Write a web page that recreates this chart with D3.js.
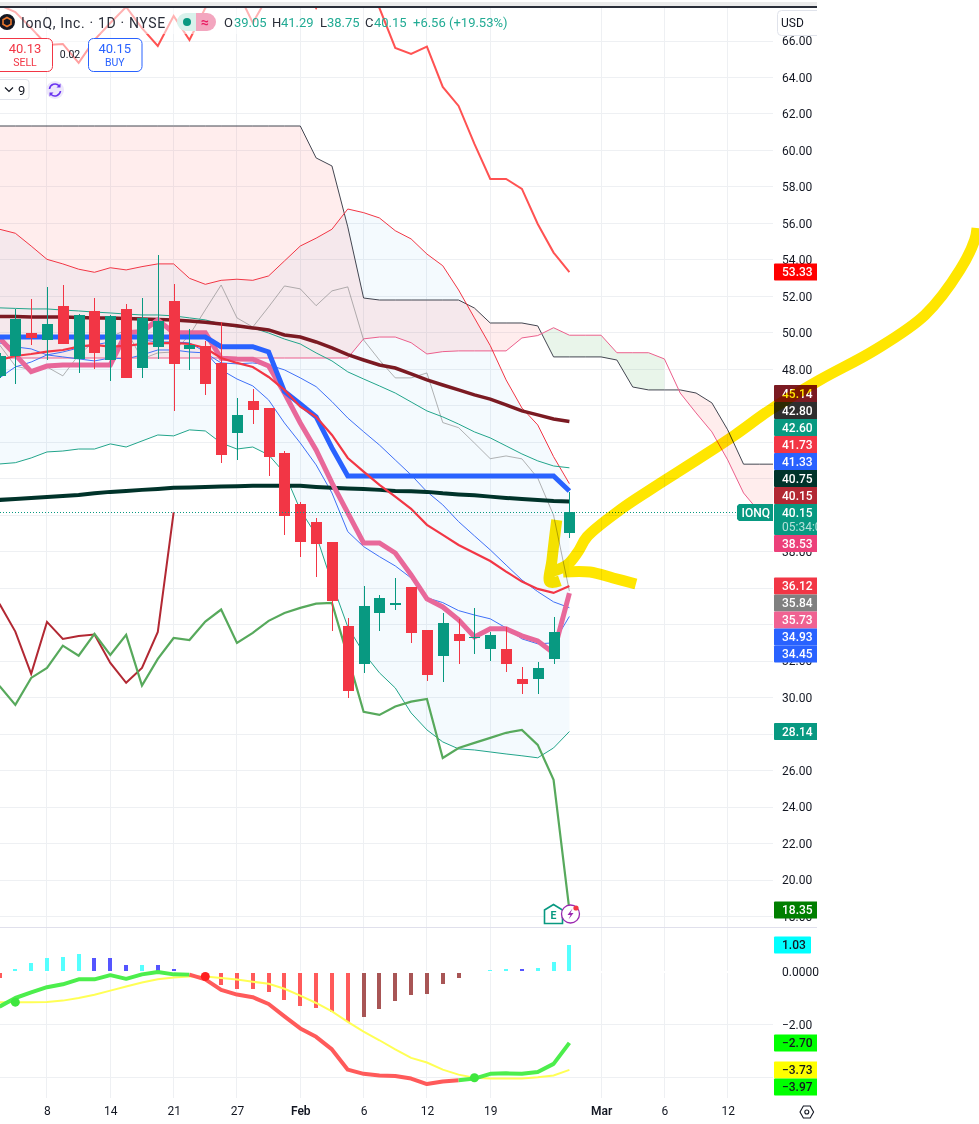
<!DOCTYPE html>
<html>
<head>
<meta charset="utf-8">
<title>IonQ, Inc. 1D</title>
<script src="https://cdn.jsdelivr.net/npm/d3@7"></script>
<style>
    html, body { margin: 0; padding: 0; background: #fff; }
    svg { display: block; font-family: Roboto, "Noto Sans", sans-serif; }
    .axis path, .axis line { display: none; }
    .axis text { fill: #131722; font-size: 12px; font-family: Roboto, sans-serif; }
</style>
</head>
<body>
<div id="chart"></div>
<script>
// candles, bar 0 is the one cut off by the left edge
const opens  = [47.64,48.73,49.99,49.61,51.47,48.57,51.20,48.51,51.31,48.07,49.23,51.75,49.12,49.28,48.35,44.51,46.27,45.88,43.42,40.62,39.63,38.54,33.93,31.85,34.65,35.08,36.07,33.71,32.29,33.49,33.27,32.67,32.67,31.03,31.03,32.12,39.05];
const highs  = [48.90,51.31,51.86,52.51,52.63,51.04,51.91,50.98,51.58,51.91,54.27,52.68,50.21,49.56,50.60,46.43,46.92,45.88,43.53,40.73,39.85,38.54,34.37,36.12,35.63,36.56,36.07,33.71,34.65,34.32,34.92,33.60,33.88,31.68,31.96,34.42,41.29];
const lows   = [47.53,47.20,49.34,48.51,49.39,47.80,48.02,47.36,47.53,47.53,48.57,45.72,47.97,46.60,42.87,43.03,45.01,42.16,38.92,37.71,36.62,33.66,29.98,31.36,33.66,34.81,33.00,30.92,30.86,31.85,32.40,32.01,31.41,30.20,30.20,31.85,38.75];
const closes = [48.73,50.76,49.72,50.49,49.39,50.98,48.90,50.93,47.53,50.82,50.65,48.29,49.34,47.20,43.31,45.50,45.77,43.20,39.96,38.54,38.43,35.30,30.37,35.03,35.47,35.19,33.55,31.25,34.10,33.11,33.33,33.44,31.85,30.75,31.63,33.60,40.15];

// cloud, runs on past the last candle
const spanA = [48.62,48.62,48.62,48.62,48.62,48.62,48.62,48.62,48.62,48.62,48.62,48.62,48.62,48.62,48.62,48.62,48.62,48.62,48.62,48.62,48.62,48.62,48.62,49.67,49.77,49.77,49.46,48.84,48.97,49.01,49.01,49.01,49.01,49.72,49.85,50.28,49.87,49.87,49.87,48.91,48.91,48.91,48.57,46.70,45.61,44.57,43.03,41.22,40.18,40.00];
const spanB = [61.34,61.34,61.34,61.34,61.34,61.34,61.34,61.34,61.34,61.34,61.34,61.34,61.34,61.34,61.34,61.34,61.34,61.34,61.34,61.34,59.59,59.15,55.81,51.91,51.80,51.80,51.80,51.80,51.80,51.80,51.36,50.54,50.54,50.54,50.38,48.68,48.68,48.68,48.68,48.51,47.03,46.87,46.87,46.87,46.70,46.16,44.68,42.80,42.80,42.80];

// bands
const bandUpper = [55.68,55.46,54.76,54.03,53.78,53.49,53.32,53.57,53.45,53.63,53.78,53.78,52.99,52.66,52.88,52.94,52.88,53.12,53.94,54.76,55.19,55.68,56.79,56.59,56.30,55.60,55.15,54.32,53.68,52.35,50.82,49.30,47.42,45.88,44.95,43.21,41.73];
const bandBasis = [51.37,51.34,51.31,51.31,51.25,51.20,51.14,51.09,51.03,50.98,50.98,50.93,50.82,50.71,50.49,50.32,50.27,49.99,49.66,49.39,48.90,48.46,47.86,47.47,47.09,46.70,46.21,45.72,45.39,45.00,44.57,44.24,43.80,43.36,42.98,42.70,42.60];
const bandLower = [42.81,42.88,43.14,43.47,43.52,43.63,43.63,43.91,43.74,44.07,44.40,44.35,44.68,44.62,43.96,43.63,43.74,43.31,42.32,40.29,38.92,36.29,33.88,32.45,31.36,30.53,29.16,28.23,27.57,27.19,27.13,27.02,26.91,26.81,26.70,27.24,28.14];

// moving averages and the rest
const ma50  = [50.89,50.89,50.87,50.87,50.87,50.84,50.82,50.82,50.79,50.76,50.73,50.71,50.65,50.58,50.49,50.39,50.27,50.16,49.88,49.77,49.50,49.17,48.80,48.51,48.24,48.07,47.75,47.42,47.14,46.87,46.60,46.37,46.05,45.72,45.50,45.28,45.14];
const ma200 = [40.84,40.89,40.95,41.00,41.06,41.11,41.20,41.28,41.33,41.39,41.44,41.50,41.52,41.55,41.58,41.59,41.61,41.61,41.61,41.61,41.55,41.50,41.47,41.44,41.39,41.33,41.31,41.28,41.20,41.14,41.09,41.02,40.95,40.89,40.84,40.78,40.75];
const baseline = [49.77,49.77,49.77,49.77,49.77,49.77,49.77,49.77,49.77,49.77,49.77,49.77,49.77,49.77,49.24,49.24,49.24,48.95,46.78,46.10,45.40,43.69,42.15,42.15,42.15,42.15,42.15,42.15,42.15,42.15,42.15,42.15,42.15,42.15,42.15,42.15,41.33];
const emaRed = [48.51,48.73,48.84,48.97,49.06,49.24,49.34,49.24,49.28,49.39,49.43,49.45,49.39,49.17,48.62,48.35,48.13,47.58,46.87,45.95,45.40,44.40,43.14,42.39,41.66,41.02,40.35,39.47,38.92,38.37,37.93,37.49,36.91,36.36,35.96,35.74,36.12];
const pinkThick = [49.72,48.79,47.87,48.18,48.24,48.24,48.24,48.24,50.00,50.07,50.71,50.01,50.01,50.01,48.61,48.57,48.55,48.18,46.70,45.06,43.58,41.77,40.13,38.48,38.48,37.93,36.73,35.41,34.97,34.26,33.33,33.77,33.77,33.39,33.11,32.45,35.73];
const blueA = [49.45,49.23,49.12,48.79,48.68,48.57,48.46,48.62,48.57,48.79,49.06,49.06,48.95,48.90,48.35,48.30,48.35,48.24,47.97,47.53,47.05,46.23,45.33,44.58,43.85,43.03,42.21,41.29,40.57,39.65,38.87,38.10,37.27,36.45,35.81,35.25,34.93];
const blueB = [47.53,48.13,48.40,48.79,48.95,49.17,49.34,49.50,49.88,49.61,49.50,49.50,49.45,48.95,47.97,47.47,47.09,46.32,45.06,43.96,42.76,41.22,39.10,38.28,37.73,37.22,36.56,35.47,35.21,34.77,34.53,34.32,33.82,33.22,32.95,33.00,34.45];
const lagGray = [49.34,48.18,47.97,48.13,47.64,48.79,49.54,49.77,50.16,48.57,48.90,48.95,49.88,51.26,52.62,50.82,50.32,51.42,52.57,52.41,51.49,52.30,52.52,49.61,48.51,47.53,47.53,47.80,45.08,44.80,43.96,43.10,43.25,43.09,42.04,40.00,35.84];
const topRed = [67.97,67.59,66.71,65.78,65.84,64.80,66.06,66.99,67.87,66.71,65.73,67.37,66.06,67.81,68.52,68.80,66.99,68.52,69.35,69.35,67.81,69.35,69.35,68.80,67.81,65.62,65.29,65.69,63.48,62.44,60.36,58.44,58.44,57.89,55.97,54.40,53.33];
const darkRed = [35.14,33.62,31.30,34.15,33.22,33.38,33.46,31.90,30.81,31.63,33.60,40.15];
const greenLine = [30.64,29.60,31.08,31.63,32.85,32.30,33.49,32.34,33.44,30.66,32.12,33.27,33.16,34.17,34.83,33.00,33.55,34.21,34.64,34.92,35.15,35.19,32.25,29.22,29.05,29.51,29.78,29.93,26.69,27.24,27.52,27.79,28.07,28.23,27.41,25.49,18.35];

// lower pane
const hist = [-0.21,0.10,0.35,0.54,0.58,0.69,0.54,0.53,0.27,0.28,0.27,0.12,0.04,0,-0.51,-0.63,-0.63,-0.78,-1.05,-1.28,-1.36,-1.51,-1.90,-1.71,-1.40,-1.09,-0.86,-0.82,-0.47,-0.24,0,0.09,0.11,0.10,0.14,0.37,1.03];
const signal = [-1.15,-1.15,-1.15,-1.14,-1.09,-0.99,-0.87,-0.71,-0.55,-0.40,-0.28,-0.21,-0.17,-0.17,-0.23,-0.29,-0.37,-0.45,-0.64,-0.90,-1.18,-1.50,-1.90,-2.27,-2.60,-2.95,-3.27,-3.45,-3.72,-3.91,-4.03,-4.06,-4.06,-4.06,-4.01,-3.94,-3.73];
const macd = [-1.32,-0.99,-0.78,-0.58,-0.47,-0.28,-0.28,-0.12,-0.26,-0.09,0,-0.09,-0.10,-0.28,-0.68,-0.86,-0.96,-1.22,-1.69,-2.15,-2.47,-2.95,-3.72,-3.88,-3.94,-3.96,-4.06,-4.27,-4.17,-4.12,-4.06,-3.88,-3.86,-3.88,-3.81,-3.50,-2.70];
const macdRuns = [[0, 12, "#4cee4c"], [12, 29, "#ff5a5a"], [29, 36, "#4cee4c"]];
const crossBars = [1, 13, 30];
const crossColors = ["#3ee63e", "#ff2020", "#3ee63e"];

// axis labels, the ticks left out sit fully behind a price tag
const priceTicks = d3.range(18, 68, 2);
const priceLabels = [18, 20, 22, 24, 26, 30, 32, 38, 48, 50, 52, 54, 56, 58, 60, 62, 64, 66];
const oscTicks = [0, -2];
const oscGrid = [-2, -4];
const timeBars = [3, 7, 11, 15, 19, 23, 27, 31, 38, 42, 46];
const timeLabels = ["8", "14", "21", "27", "Feb", "6", "12", "19", "Mar", "6", "12"];

// price tags on the right axis
const lastPrice = 40.15;
const tagsAbove = [[40.15, "#b22833"], [40.75, "#00332a"], [41.33, "#2962ff"], [41.73, "#f23645"], [42.60, "#089981"], [42.80, "#2e2e2e"], [45.14, "#7b1a22"]];
const tagsBelow = [[38.53, "#ec407a"], [36.12, "#f23645"], [35.84, "#808080"], [35.73, "#f06292"], [34.93, "#2962ff"], [34.45, "#2962ff"]];
const tagsFree = [[53.33, "#ff0000"], [28.14, "#089981"], [18.35, "#007f00"]];
const oscTags = [[-2.70, "#00ff00"], [-3.73, "#ffff00"], [-3.97, "#00ff00"]];

// hand drawn marker, as [bar, price]
const markerMain = [[61.75,55.75],[61.6,55.09],[60.67,53.45],[58.46,50.98],[55.3,49.06],[51.83,47.42],[48.67,45.77],[46.46,44.40],[44.25,43.14],[41.09,41.39],[39.2,40.29],[37.11,38.81],[36.54,37.99],[35.85,37.27],[34.77,36.89]];
const markerDown = [[35.2,39.74],[34.9,37.55],[34.77,36.34],[35.4,36.4]];
const markerTail = [[35.6,36.89],[37.3,36.89],[38.76,36.56],[40.2,36.23]];

const width = 979, height = 1124;
const plotRight = 773, axisRight = 817, paneTop = 8, paneSplit = 927, paneBottom = 1098, tagH = 17;

const x = d3.scaleLinear().domain([0, 49]).range([-0.5, 775.2]);
const y = d3.scaleLinear().domain([64, 20]).range([77.5, 880]);
const yOsc = d3.scaleLinear().domain([0, -4]).range([972, 1077]);

const svg = d3.select("#chart").append("svg").attr("width", width).attr("height", height);
svg.append("rect").attr("width", width).attr("height", height).attr("fill", "#fff");

const defs = svg.append("defs");
defs.append("clipPath").attr("id", "plotClip").append("rect")
    .attr("x", 0).attr("y", paneTop).attr("width", plotRight).attr("height", paneSplit - paneTop);
defs.append("clipPath").attr("id", "redA").append("rect")
    .attr("x", -1).attr("y", 0).attr("width", x(34.25) + 1).attr("height", height);
defs.append("clipPath").attr("id", "greenA").append("rect")
    .attr("x", x(34.25)).attr("y", 0).attr("width", x(42) - x(34.25)).attr("height", height);
defs.append("clipPath").attr("id", "redB").append("rect")
    .attr("x", x(42.9)).attr("y", 0).attr("width", plotRight - x(42.9)).attr("height", height);
defs.append("clipPath").attr("id", "axisClip").append("rect")
    .attr("x", 0).attr("y", 0).attr("width", axisRight).attr("height", height);
defs.append("clipPath").attr("id", "priceAxisClip").append("rect")
    .attr("x", plotRight).attr("y", 36).attr("width", axisRight - plotRight).attr("height", paneSplit - 36);

// grid
const grid = svg.append("g").attr("shape-rendering", "crispEdges").attr("stroke", "#eef0f3");
grid.selectAll(".h").data(priceTicks).join("line").attr("class", "h")
    .attr("x1", 0).attr("x2", plotRight).attr("y1", d => y(d)).attr("y2", d => y(d));
grid.selectAll(".o").data(oscGrid).join("line").attr("class", "o")
    .attr("x1", 0).attr("x2", plotRight).attr("y1", d => yOsc(d)).attr("y2", d => yOsc(d));
grid.selectAll(".v").data(timeBars).join("line").attr("class", "v")
    .attr("x1", d => x(d)).attr("x2", d => x(d)).attr("y1", paneTop).attr("y2", paneBottom);

const plot = svg.append("g").attr("clip-path", "url(#plotClip)");

// fills
const bars = d3.range(spanA.length);
const cloud = d3.area().x(d => x(d)).y0(d => y(spanA[d])).y1(d => y(spanB[d]));
const band = d3.area().x(d => x(d)).y0(d => y(bandUpper[d])).y1(d => y(bandLower[d]));
plot.append("path").attr("d", band(d3.range(bandUpper.length))).attr("fill", "rgba(33,150,243,.05)");
plot.append("path").attr("d", cloud(bars)).attr("clip-path", "url(#redA)").attr("fill", "rgba(255,82,82,.1)");
plot.append("path").attr("d", cloud(bars)).attr("clip-path", "url(#greenA)").attr("fill", "rgba(76,175,80,.12)");
plot.append("path").attr("d", cloud(bars)).attr("clip-path", "url(#redB)").attr("fill", "rgba(255,82,82,.1)");

// last price line
svg.append("line").attr("x1", 0).attr("x2", 737).attr("y1", y(lastPrice)).attr("y2", y(lastPrice))
    .attr("stroke", "#089981").attr("stroke-dasharray", "1 2").attr("shape-rendering", "crispEdges");

const line = d3.line().x((d, i) => x(i)).y(d => y(d));
function drawLine(values, color, w) {
    plot.append("path").attr("d", line(values)).attr("fill", "none")
        .attr("stroke", color).attr("stroke-width", w).attr("stroke-linejoin", "miter");
}
drawLine(spanB, "#434651", 1);
drawLine(spanA, "#ec5f8c", 1);
drawLine(lagGray, "rgba(128,128,128,.6)", 1);
drawLine(bandUpper, "#f23645", 1);
drawLine(bandBasis, "#22a58b", 1);
drawLine(bandLower, "#22a58b", 1);
drawLine(blueA, "#3f70f8", 1);
drawLine(blueB, "#3f70f8", 1);
drawLine(topRed, "#ff5252", 2);
drawLine(darkRed, "#b22833", 2);
drawLine(greenLine, "#57a95c", 2.2);
drawLine(ma200, "#00332a", 4);
drawLine(ma50, "#7b1a22", 3.5);
drawLine(pinkThick, "#e8689a", 5);
drawLine(baseline, "#2962ff", 5);
drawLine(emaRed, "#f23645", 2.2);

// candles
const candles = plot.append("g").attr("shape-rendering", "crispEdges");
const barColor = i => closes[i] >= opens[i] ? "#089981" : "#f23645";
candles.selectAll(".w").data(opens).join("line").attr("class", "w")
    .attr("x1", (d, i) => Math.round(x(i)) + .5).attr("x2", (d, i) => Math.round(x(i)) + .5)
    .attr("y1", (d, i) => y(highs[i])).attr("y2", (d, i) => y(lows[i]))
    .attr("stroke", (d, i) => barColor(i));
candles.selectAll(".b").data(opens).join("rect").attr("class", "b")
    .attr("x", (d, i) => Math.round(x(i)) - 5).attr("width", 11)
    .attr("y", (d, i) => y(Math.max(d, closes[i])))
    .attr("height", (d, i) => Math.max(1, Math.abs(y(d) - y(closes[i]))))
    .attr("fill", (d, i) => barColor(i));

// white backing of the legend rows fades what runs behind it
svg.append("rect").attr("x", 0).attr("y", paneTop).attr("width", 300).attr("height", 26).attr("fill", "rgba(255,255,255,.55)");
svg.append("rect").attr("x", 0).attr("y", 34).attr("width", 145).attr("height", 38).attr("fill", "rgba(255,255,255,.45)");

// lower pane
const histColor = (d, i) => {
    const prev = i ? hist[i - 1] : 0;
    if (d >= 0) return d > prev ? "#55ffff" : "#5555ff";
    return d <= prev ? "#ff5a5a" : "#a85555";
};
svg.append("g").attr("shape-rendering", "crispEdges").selectAll("rect").data(hist).join("rect")
    .attr("x", (d, i) => Math.round(x(i)) - 2).attr("width", 4)
    .attr("y", d => Math.min(yOsc(d), yOsc(0))).attr("height", d => Math.abs(yOsc(d) - yOsc(0)))
    .attr("fill", histColor);
svg.append("rect").attr("x", 0).attr("y", yOsc(0) - 1).attr("width", plotRight).attr("height", 2).attr("fill", "#fff");

const oscLine = d3.line().x(d => x(d)).y(d => yOsc(macd[d]));
const sigLine = d3.line().x((d, i) => x(i)).y(d => yOsc(d));
svg.append("path").attr("d", sigLine(signal)).attr("fill", "none").attr("stroke", "#ffff55").attr("stroke-width", 2);
macdRuns.forEach(([from, to, color]) => {
    svg.append("path").attr("d", oscLine(d3.range(from, to + 1))).attr("fill", "none")
        .attr("stroke", color).attr("stroke-width", 4).attr("stroke-linejoin", "round");
});
svg.selectAll(".cross").data(crossBars).join("circle").attr("class", "cross")
    .attr("cx", d => x(d)).attr("cy", d => yOsc(signal[d]))
    .attr("r", 4.5).attr("fill", (d, i) => crossColors[i]);

// top bars and separators
svg.append("rect").attr("x", 0).attr("y", 2).attr("width", axisRight).attr("height", 4).attr("fill", "#ebebeb");
svg.append("rect").attr("x", 0).attr("y", 6).attr("width", axisRight).attr("height", 2).attr("fill", "#2a2e39");
svg.append("line").attr("x1", 0).attr("x2", axisRight).attr("y1", paneSplit + .5).attr("y2", paneSplit + .5)
    .attr("stroke", "#e0e0ec");

// axes
svg.append("g").attr("clip-path", "url(#priceAxisClip)")
  .append("g").attr("class", "axis").attr("transform", "translate(782,0)")
    .call(d3.axisRight(y).tickValues(priceLabels).tickFormat(d3.format(".2f")).tickSize(0).tickPadding(0));
svg.append("g").attr("class", "axis").attr("transform", "translate(782,0)")
    .call(d3.axisRight(yOsc).tickValues(oscTicks).tickFormat(d => d === 0 ? "0.0000" : d3.format(".2f")(d)).tickSize(0).tickPadding(0));
const timeAxis = svg.append("g").attr("class", "axis").attr("transform", `translate(0,${paneBottom})`)
    .call(d3.axisBottom(x).tickValues(timeBars).tickFormat((d, i) => timeLabels[i]).tickSize(0).tickPadding(8));
timeAxis.selectAll("text").style("font-weight", (d, i) => isNaN(timeLabels[i]) ? 600 : 400);

// tags, the ones around the last price get pushed away from it
const tagLayer = svg.append("g").attr("clip-path", "url(#axisClip)");
function drawTag(value, color, top, opts = {}) {
    const h = opts.h || tagH;
    tagLayer.append("rect").attr("x", 774).attr("y", top).attr("width", opts.w || 44).attr("height", h)
        .attr("rx", 1).attr("fill", color);
    tagLayer.append("text").attr("x", 782).attr("y", top + tagH / 2).attr("dy", ".36em")
        .attr("font-size", 12).attr("font-weight", 500).attr("fill", opts.ink || "#fff")
        .text(opts.text || d3.format(".2f")(value));
}
const mainTop = y(lastPrice) - tagH / 2;
let edge = mainTop;
tagsAbove.forEach(([v, c]) => {
    edge = Math.min(y(v) - tagH / 2, edge - tagH);
    drawTag(v, c, edge);
});
edge = mainTop + 31 - tagH;
tagsBelow.forEach(([v, c]) => {
    edge = Math.max(y(v) - tagH / 2, edge + tagH);
    drawTag(v, c, edge);
});
tagsFree.forEach(([v, c]) => drawTag(v, c, y(v) - tagH / 2));
drawTag(lastPrice, "#089981", mainTop, { h: 31 });
tagLayer.append("text").attr("x", 782).attr("y", mainTop + 27).attr("font-size", 12)
    .attr("fill", "rgba(255,255,255,.7)").text("05:34:08");
drawTag(hist[hist.length - 1], "#00ffff", yOsc(hist[hist.length - 1]) - tagH / 2, { w: 37, ink: "#131722" });
let oscEdge = -Infinity;
oscTags.forEach(([v, c]) => {
    oscEdge = Math.max(yOsc(v) - tagH / 2, oscEdge + tagH);
    drawTag(v, c, oscEdge, { ink: "#131722" });
});

// symbol tag
svg.append("path").attr("d", d3.line()([[773, 504], [739, 504], [737, 506], [737, 519], [739, 521], [773, 521]]))
    .attr("fill", "#089981");
svg.append("text").attr("x", 741.5).attr("y", 517).attr("font-size", 12).attr("font-weight", 500).attr("fill", "#fff").text("IONQ");

// usd box
svg.append("g").attr("clip-path", "url(#axisClip)").append("rect")
    .attr("x", 777.5).attr("y", 10.5).attr("width", 50).attr("height", 25).attr("rx", 4)
    .attr("fill", "#fff").attr("stroke", "#e0e3eb");
svg.append("text").attr("x", 781).attr("y", 27).attr("font-size", 12).attr("fill", "#131722").text("USD");

// legend
const legend = svg.append("g");
legend.append("circle").attr("cx", 7).attr("cy", 22).attr("r", 8).attr("fill", "#131722");
legend.append("path").attr("d", "M7 17.5l4 2.2v4.6l-4 2.2l-4-2.2v-4.6z").attr("fill", "none").attr("stroke", "#e8762d").attr("stroke-width", 1.6);
legend.append("text").attr("x", 21).attr("y", 27.5).attr("font-size", 14).attr("letter-spacing", ".65").attr("fill", "#2a2e39").text("IonQ, Inc. · 1D · NYSE");
legend.append("path").attr("d", "M196 13h-10a9 9 0 0 0 0 18h10z").attr("fill", "#d9f2ec");
legend.append("path").attr("d", "M196 13h11a9 9 0 0 1 0 18h-11z").attr("fill", "#f3a6bf");
legend.append("circle").attr("cx", 187).attr("cy", 22).attr("r", 4).attr("fill", "#089981");
legend.append("text").attr("x", 205).attr("y", 27).attr("text-anchor", "middle").attr("font-size", 14).attr("font-weight", 700).attr("fill", "#e91e63").text("≈");

const ohlc = [["O", 224], ["39.05", 234], ["H", 272], ["41.29", 281], ["L", 320], ["38.75", 327], ["C", 365], ["40.15", 374], ["+6.56", 413], ["(+19.53%)", 449]];
legend.selectAll(".q").data(ohlc).join("text").attr("class", "q")
    .attr("x", d => d[1]).attr("y", 27).attr("font-size", 13)
    .attr("fill", d => d[0].length === 1 ? "#2a2e39" : "#22ab94").text(d => d[0]);

function tradeBox(left, w, color, price, word) {
    legend.append("rect").attr("x", left + .5).attr("y", 38.5).attr("width", w).attr("height", 33).attr("rx", 5)
        .attr("fill", "#fff").attr("stroke", color);
    const mid = left + w / 2;
    legend.append("text").attr("x", word === "SELL" ? 25 : mid).attr("y", 53).attr("text-anchor", "middle")
        .attr("font-size", 13).attr("fill", color).text(price);
    legend.append("text").attr("x", word === "SELL" ? 25 : mid).attr("y", 66).attr("text-anchor", "middle")
        .attr("font-size", 10.5).attr("fill", color).text(word);
}
tradeBox(-10, 62, "#f23645", "40.13", "SELL");
tradeBox(88, 53.5, "#2962ff", "40.15", "BUY");
legend.append("text").attr("x", 70).attr("y", 58).attr("text-anchor", "middle").attr("font-size", 10.5).attr("fill", "#131722").text("0.02");

legend.append("rect").attr("x", -5).attr("y", 79.5).attr("width", 34).attr("height", 20).attr("rx", 3)
    .attr("fill", "#fff").attr("stroke", "#e0e3eb");
legend.append("path").attr("d", "M5 87.5l4 4l4-4").attr("fill", "none").attr("stroke", "#131722").attr("stroke-width", 1.2);
legend.append("text").attr("x", 18).attr("y", 94.5).attr("font-size", 13).attr("fill", "#131722").text("9");
legend.append("circle").attr("cx", 55).attr("cy", 90).attr("r", 9).attr("fill", "#ede7fb");
legend.append("path").attr("d", "M49.5 89a5.6 5.6 0 0 1 9.6-3.2M60.5 91a5.6 5.6 0 0 1-9.6 3.2").attr("fill", "none").attr("stroke", "#6a33f0").attr("stroke-width", 1.6);
legend.append("path").attr("d", "M60.5 83.5v4h-4zM49.5 96.5v-4h4z").attr("fill", "#6a33f0");

// earnings and dividend marks
const marks = svg.append("g");
marks.append("path").attr("d", "M544.5 910l9-5.5l9 5.5v13.5h-18z").attr("fill", "#fff").attr("stroke", "#089981").attr("stroke-width", 1.6);
marks.append("text").attr("x", 553.5).attr("y", 918.5).attr("text-anchor", "middle").attr("font-size", 10.5).attr("font-weight", 700).attr("fill", "#089981").text("E");
marks.append("circle").attr("cx", 570.5).attr("cy", 914).attr("r", 9).attr("fill", "#fff").attr("stroke", "#9c27b0").attr("stroke-width", 1.3);
marks.append("path").attr("d", "M572.5 908.5l-5 6.5h3l-2 4.5l5-6.5h-3z").attr("fill", "#9c27b0");
marks.append("circle").attr("cx", 576).attr("cy", 908).attr("r", 2.6).attr("fill", "#f23645");

// settings icon
svg.append("path").attr("d", "M800 1112l3.4-6h6.8l3.4 6l-3.4 6h-6.8z").attr("fill", "none").attr("stroke", "#131722").attr("stroke-width", 1.1);
svg.append("circle").attr("cx", 806.8).attr("cy", 1112).attr("r", 2).attr("fill", "none").attr("stroke", "#131722").attr("stroke-width", 1.1);

// yellow marker on top of everything, multiplies like a highlighter
const marker = svg.append("g").style("mix-blend-mode", "multiply");
const markerLine = d3.line().curve(d3.curveCatmullRom).x(d => x(d[0])).y(d => y(d[1]));
[markerMain, markerDown, markerTail].forEach(points => {
    marker.append("path").attr("d", markerLine(points)).attr("fill", "none")
        .attr("stroke", "#ffe600").attr("stroke-width", 11).attr("stroke-linejoin", "round");
});
</script>
</body>
</html>
